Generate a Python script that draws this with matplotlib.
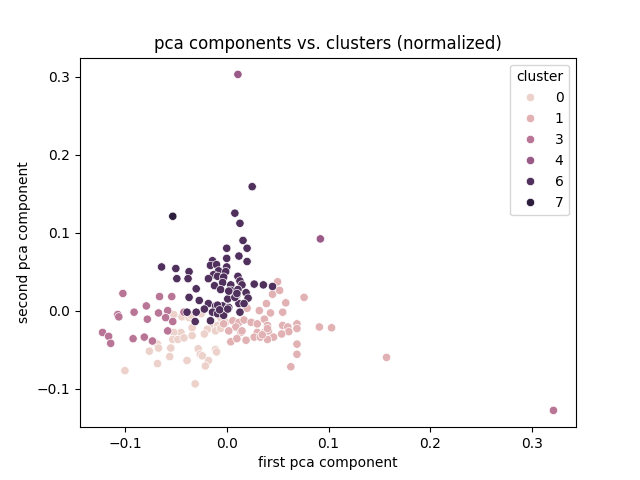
import matplotlib
matplotlib.use("Agg")
import matplotlib.pyplot as plt
import pandas as pd
import seaborn as sns

# (first pca component, second pca component), per cluster
cluster0 = [(-0.052, -0.005), (-0.044, -0.008), (-0.037, -0.009), (-0.025, -0.004),
            (-0.015, -0.013), (-0.006, -0.009), (-0.014, -0.022), (-0.009, -0.019),
            (-0.019, -0.024), (-0.022, -0.030), (-0.034, -0.022), (-0.034, -0.032),
            (-0.045, -0.028), (-0.052, -0.028), (-0.053, -0.037), (-0.048, -0.037),
            (-0.042, -0.035), (-0.068, -0.043), (-0.067, -0.048), (-0.055, -0.048),
            (-0.076, -0.052), (-0.028, -0.049), (-0.026, -0.056), (-0.011, -0.050),
            (-0.010, -0.053), (-0.018, -0.064), (-0.021, -0.071), (-0.024, -0.058),
            (-0.056, -0.059), (-0.039, -0.064), (-0.068, -0.068), (-0.100, -0.077),
            (-0.031, -0.094), (-0.011, -0.026), (-0.006, -0.023), (-0.035, -0.006),
            (-0.001, -0.015)]
cluster1 = [(0.050, 0.037), (0.045, 0.021), (0.052, 0.026), (0.076, 0.017),
            (0.058, 0.010), (0.039, 0.009), (0.032, 0.000), (0.043, -0.003),
            (0.055, -0.002), (0.020, 0.003), (0.006, -0.013), (0.012, -0.015),
            (0.017, -0.012), (0.024, -0.015), (0.030, -0.017), (0.037, -0.011),
            (0.040, -0.019), (0.009, -0.021), (0.002, -0.026), (0.014, -0.028),
            (0.030, -0.028), (0.037, -0.028), (0.041, -0.026), (0.055, -0.019),
            (0.060, -0.021), (0.069, -0.017), (0.061, -0.027), (0.027, -0.034),
            (0.033, -0.034), (0.046, -0.034), (0.054, -0.030), (0.004, -0.040),
            (0.019, -0.038), (0.091, -0.021), (0.103, -0.022), (0.069, -0.043),
            (0.069, -0.056), (0.063, -0.072), (0.157, -0.060), (0.069, -0.023),
            (0.040, -0.037), (-0.003, -0.017), (0.035, -0.031), (0.040, -0.023),
            (0.010, -0.036), (0.015, -0.026)]
cluster3 = [(-0.102, 0.022), (-0.066, 0.018), (-0.054, 0.018), (-0.079, 0.006),
            (-0.091, -0.002), (-0.107, -0.005), (-0.106, -0.008), (-0.067, -0.003),
            (-0.058, 0.000), (-0.060, -0.009), (-0.078, -0.011), (-0.053, -0.014),
            (-0.042, -0.002), (-0.122, -0.028), (-0.116, -0.033), (-0.114, -0.042),
            (-0.092, -0.036), (-0.081, -0.034), (-0.073, -0.039), (-0.058, -0.026),
            (0.321, -0.128)]
cluster4 = [(0.011, 0.303), (0.092, 0.092)]
cluster6 = [(0.025, 0.159), (0.008, 0.125), (0.013, 0.112), (0.016, 0.090),
            (0.020, 0.080), (0.000, 0.080), (0.012, 0.070), (0.000, 0.067),
            (0.020, 0.063), (-0.014, 0.064), (-0.016, 0.058), (-0.010, 0.059),
            (0.000, 0.056), (-0.064, 0.056), (-0.050, 0.054), (-0.037, 0.050),
            (-0.008, 0.051), (-0.001, 0.050), (-0.013, 0.046), (-0.018, 0.041),
            (-0.009, 0.044), (-0.003, 0.043), (0.011, 0.044), (0.013, 0.038),
            (-0.049, 0.041), (-0.038, 0.041), (-0.012, 0.032), (-0.004, 0.036),
            (0.004, 0.033), (0.015, 0.033), (0.027, 0.034), (0.036, 0.033),
            (0.045, 0.031), (-0.030, 0.028), (-0.006, 0.027), (0.004, 0.026),
            (0.011, 0.027), (0.019, 0.023), (0.010, 0.020), (0.021, 0.016),
            (-0.027, 0.013), (-0.037, 0.017), (-0.018, 0.009), (-0.011, 0.006),
            (-0.004, 0.006), (0.002, 0.004), (0.012, 0.009), (-0.022, 0.002),
            (0.001, 0.015), (0.008, 0.017), (-0.030, -0.002), (-0.039, -0.002),
            (-0.014, -0.002), (-0.009, -0.004), (-0.003, -0.006), (0.013, -0.002),
            (-0.031, -0.014), (-0.016, -0.013), (0.002, 0.025), (0.010, 0.022),
            (0.017, 0.009), (-0.009, 0.007), (0.001, 0.002), (-0.007, 0.001)]
cluster7 = [(-0.053, 0.121)]

groups = [(0, cluster0), (1, cluster1), (3, cluster3), (6, cluster6),
          (4, cluster4), (7, cluster7)]

rows = []
for label, pts in groups:
    for x, y in pts:
        rows.append({"pc1": x, "pc2": y, "cluster": label})
df = pd.DataFrame(rows)

fig, ax = plt.subplots(figsize=(6.4, 4.8), dpi=100)
sns.scatterplot(data=df, x="pc1", y="pc2", hue="cluster", ax=ax)
ax.set_title("pca components vs. clusters (normalized)")
ax.set_xlabel("first pca component")
ax.set_ylabel("second pca component")
fig.savefig("out.png")
